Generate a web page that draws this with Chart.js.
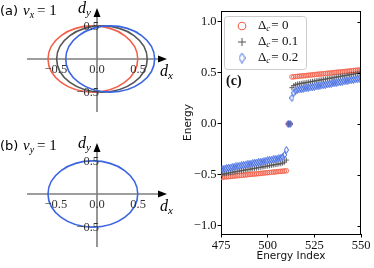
<!DOCTYPE html>
<html>
<head>
<meta charset="utf-8">
<script src="https://cdn.jsdelivr.net/npm/chart.js@4.4.0/dist/chart.umd.min.js"></script>
<style>
  body { margin: 0; background: #fff; }
  #wrap { position: relative; width: 374px; height: 268px; overflow: hidden; }
  .pane { position: absolute; }
</style>
</head>
<body>
<div id="wrap">
  <div class="pane" style="left:0;top:0;width:190px;height:135px"><canvas id="panelA"></canvas></div>
  <div class="pane" style="left:0;top:135px;width:190px;height:133px"><canvas id="panelB"></canvas></div>
  <div class="pane" style="left:175px;top:0;width:199px;height:268px"><canvas id="panelC"></canvas></div>
</div>
<script>
// ---- panel (c): energies around the gap ----
const energyIndex = [
  475, 476, 477, 478, 479, 480, 481, 482, 483, 484, 485, 486, 487, 488, 489, 490, 491, 492, 493,
  494, 495, 496, 497, 498, 499, 500, 501, 502, 503, 504, 505, 506, 507, 508, 509, 510,
  511, 512,
  513, 514, 515, 516, 517, 518, 519, 520, 521, 522, 523, 524, 525, 526, 527, 528, 529, 530, 531,
  532, 533, 534, 535, 536, 537, 538, 539, 540, 541, 542, 543, 544, 545, 546, 547, 548, 549, 550
];
const energyDc0 = [
  -0.525, -0.523, -0.521, -0.519, -0.518, -0.516, -0.514, -0.512, -0.510, -0.508, -0.506, -0.505,
  -0.503, -0.501, -0.499, -0.497, -0.495, -0.493, -0.492, -0.490, -0.488, -0.486, -0.484, -0.482,
  -0.480, -0.479, -0.477, -0.475, -0.473, -0.471, -0.469, -0.467, -0.466, -0.464, -0.462, -0.460,
  0, 0,
  0.460, 0.462, 0.464, 0.466, 0.468, 0.470, 0.471, 0.473, 0.475, 0.477, 0.479, 0.481, 0.483,
  0.485, 0.487, 0.489, 0.490, 0.492, 0.494, 0.496, 0.498, 0.500, 0.502, 0.504, 0.506, 0.508,
  0.509, 0.511, 0.513, 0.515, 0.517, 0.519, 0.521, 0.523, 0.525, 0.527, 0.528, 0.530
];
const energyDc01 = [
  -0.495, -0.492, -0.489, -0.485, -0.482, -0.479, -0.475, -0.472, -0.469, -0.466, -0.462, -0.459,
  -0.456, -0.452, -0.449, -0.446, -0.443, -0.439, -0.436, -0.433, -0.429, -0.426, -0.423, -0.420,
  -0.416, -0.413, -0.410, -0.406, -0.403, -0.400, -0.397, -0.393, -0.390, -0.385, -0.375, -0.355,
  0, 0,
  0.355, 0.375, 0.385, 0.390, 0.393, 0.397, 0.400, 0.403, 0.407, 0.410, 0.413, 0.416, 0.420,
  0.423, 0.426, 0.430, 0.433, 0.436, 0.439, 0.443, 0.446, 0.449, 0.452, 0.456, 0.459, 0.462,
  0.466, 0.469, 0.472, 0.475, 0.479, 0.482, 0.485, 0.489, 0.492, 0.495, 0.498, 0.502
];
const energyDc02 = [
  -0.445, -0.442, -0.438, -0.435, -0.431, -0.428, -0.424, -0.421, -0.417, -0.414, -0.411, -0.407,
  -0.404, -0.400, -0.397, -0.393, -0.390, -0.386, -0.383, -0.379, -0.376, -0.373, -0.369, -0.366,
  -0.362, -0.359, -0.355, -0.352, -0.348, -0.345, -0.342, -0.338, -0.335, -0.325, -0.305, -0.255,
  0, 0,
  0.255, 0.305, 0.325, 0.335, 0.338, 0.342, 0.345, 0.348, 0.352, 0.355, 0.358, 0.361, 0.365,
  0.368, 0.371, 0.375, 0.378, 0.381, 0.385, 0.388, 0.391, 0.394, 0.398, 0.401, 0.404, 0.408,
  0.411, 0.414, 0.418, 0.421, 0.424, 0.427, 0.431, 0.434, 0.437, 0.441, 0.444, 0.447
];
const deltaLabels = ['0', '0.1', '0.2'];
const indexTicks = [475, 500, 525, 550];
const energyTicks = [-1.0, -0.5, 0.0, 0.5, 1.0];

// ---- panels (a), (b): winding of (dx, dy) ----
const dTicksX = [-0.5, 0.0, 0.5];
const dTicksY = [-0.5, 0.5];
const ellipseCxA = [-0.05, 0.06, 0.16];
const ellipseRxA = [0.545, 0.55, 0.54];
const ellipseRyA = [0.5, 0.5, 0.5];
const ellipseCxB = [-0.05];
const ellipseRxB = [0.545];
const ellipseRyB = [0.5];

const RED = '#f2604a', GRAY = '#555555', BLUE = '#3b66e3';

function minusSign(s) { return s.replace('-', '\u2212'); }

// thin diamond marker like matplotlib 'd'
function thinDiamond(w, h, color) {
  const c = document.createElement('canvas');
  c.width = w; c.height = h;
  const g = c.getContext('2d');
  g.strokeStyle = color; g.lineWidth = 1;
  g.beginPath();
  g.moveTo(w / 2, 0.5); g.lineTo(w - 0.5, h / 2); g.lineTo(w / 2, h - 0.5); g.lineTo(0.5, h / 2);
  g.closePath(); g.stroke();
  return c;
}
const diamondSmall = thinDiamond(5, 8, BLUE);
const diamondBig = thinDiamond(7, 11, BLUE);

function pts(ys) { return energyIndex.map((x, i) => ({ x: x, y: ys[i] })); }

function subText(ctx, parts, x, y) {
  // parts: [text, font, dy, extra gap]
  let cx = x;
  parts.forEach(p => {
    ctx.font = p[1];
    ctx.fillText(p[0], cx, y + (p[2] || 0));
    cx += ctx.measureText(p[0]).width + (p[3] || 0);
  });
}

const frameLegend = {
  id: 'frameLegend',
  afterDraw(chart) {
    const { ctx, chartArea: a, scales } = chart;
    ctx.save();
    ctx.strokeStyle = '#000';
    ctx.lineWidth = 1;
    ctx.beginPath();
    ctx.moveTo(a.left, a.top + 0.5); ctx.lineTo(a.right, a.top + 0.5);
    ctx.moveTo(a.right - 0.5, a.top); ctx.lineTo(a.right - 0.5, a.bottom);
    energyTicks.forEach(v => {
      const y = Math.round(scales.y.getPixelForValue(v)) + 0.5;
      ctx.moveTo(a.right, y); ctx.lineTo(a.right - 3.5, y);
    });
    ctx.stroke();

    // legend
    const L = a.left + 3, T = a.top + 5, W = 82, H = 53;
    ctx.fillStyle = 'rgba(255,255,255,0.85)';
    ctx.strokeStyle = '#cccccc';
    ctx.beginPath();
    ctx.roundRect(L + 0.5, T + 0.5, W, H, 3);
    ctx.fill(); ctx.stroke();
    const rows = [T + 10, T + 26, T + 42];
    const mx = L + 18;
    ctx.strokeStyle = RED; ctx.lineWidth = 1.1;
    ctx.beginPath(); ctx.arc(mx, rows[0], 3.8, 0, Math.PI * 2); ctx.stroke();
    ctx.strokeStyle = GRAY; ctx.lineWidth = 1;
    ctx.beginPath();
    ctx.moveTo(mx - 4, rows[1]); ctx.lineTo(mx + 4, rows[1]);
    ctx.moveTo(mx, rows[1] - 4); ctx.lineTo(mx, rows[1] + 4);
    ctx.stroke();
    ctx.drawImage(diamondBig, mx - 3.5, rows[2] - 5.5);
    ctx.fillStyle = '#111';
    ctx.textBaseline = 'middle';
    deltaLabels.forEach((lab, i) => {
      subText(ctx, [
        ['\u0394', '13px "Liberation Serif"', 0],
        ['c', 'italic 9px "Liberation Serif"', 3, 1],
        ['= ' + lab, '13px "Liberation Serif"', 0]
      ], L + 34, rows[i]);
    });
    ctx.font = 'bold 14px "Liberation Serif"';
    ctx.textAlign = 'left';
    ctx.fillText('(c)', a.left + 5, a.top + 70);
    ctx.restore();
  }
};

new Chart(document.getElementById('panelC'), {
  type: 'scatter',
  data: {
    datasets: [
      { label: 'Δc = 0', data: pts(energyDc0), pointStyle: 'circle', pointRadius: 2.3,
        borderColor: RED, backgroundColor: 'rgba(0,0,0,0)', pointBorderWidth: 0.9, order: 3 },
      { label: 'Δc = 0.1', data: pts(energyDc01), pointStyle: 'cross', pointRadius: 2.6,
        borderColor: GRAY, backgroundColor: GRAY, pointBorderWidth: 0.9, order: 2 },
      { label: 'Δc = 0.2', data: pts(energyDc02), pointStyle: diamondSmall,
        borderColor: BLUE, backgroundColor: BLUE, order: 1 }
    ]
  },
  options: {
    responsive: true,
    maintainAspectRatio: false,
    animation: false,
    events: [],
    layout: { padding: { left: 0, right: 13, top: 11, bottom: 0 } },
    plugins: { legend: { display: false }, tooltip: { enabled: false } },
    scales: {
      x: {
        type: 'linear', min: 475, max: 550,
        afterFit(s) { s.height = 34; },
        afterBuildTicks(s) { s.ticks = indexTicks.map(v => ({ value: v })); },
        grid: { drawOnChartArea: false, drawTicks: true, tickLength: 3.5, color: '#000' },
        border: { display: true, color: '#000', width: 1 },
        ticks: { maxRotation: 0, padding: 1, color: '#111',
                 font: { family: 'Liberation Serif', size: 12.5 } },
        title: { display: true, text: 'Energy Index', color: '#111',
                 font: { family: 'DejaVu Sans', size: 10.5 }, padding: { top: 0, bottom: 5 } }
      },
      y: {
        type: 'linear', min: -1.08, max: 1.107,
        afterFit(s) { s.width = 46; },
        afterBuildTicks(s) { s.ticks = energyTicks.map(v => ({ value: v })); },
        grid: { drawOnChartArea: false, drawTicks: true, tickLength: 3.5, color: '#000' },
        border: { display: true, color: '#000', width: 1 },
        ticks: { padding: 1, color: '#111', font: { family: 'Liberation Serif', size: 12.5 },
                 callback: v => minusSign(Math.abs(v) < 1e-9 ? '0.0' : v.toFixed(1)) },
        title: { display: true, text: 'Energy', color: '#111',
                 font: { family: 'DejaVu Sans', size: 10.5 }, padding: { top: 7, bottom: 0 } }
      }
    }
  },
  plugins: [frameLegend]
});

// ---- (a) and (b) ----
function arrowAxes(tag, nuSub, cxs, rxs, rys, colors) {
  return {
    id: 'arrowAxes',
    afterDraw(chart) {
      const { ctx, scales: { x, y } } = chart;
      const x0 = x.getPixelForValue(0), y0 = y.getPixelForValue(0);
      const xl = x.getPixelForValue(x.min), xr = x.getPixelForValue(x.max);
      const yb = y.getPixelForValue(y.min), yt = y.getPixelForValue(y.max);
      ctx.save();
      ctx.strokeStyle = '#7d7d7d';
      ctx.lineWidth = 1.6;
      ctx.beginPath();
      ctx.moveTo(xl, y0); ctx.lineTo(xr - 6, y0);
      ctx.moveTo(x0, yb); ctx.lineTo(x0, yt + 6);
      ctx.stroke();
      ctx.fillStyle = '#000';
      ctx.beginPath();
      ctx.moveTo(xr, y0); ctx.lineTo(xr - 9, y0 - 3.5); ctx.lineTo(xr - 9, y0 + 3.5); ctx.closePath();
      ctx.moveTo(x0, yt); ctx.lineTo(x0 - 3.5, yt + 9); ctx.lineTo(x0 + 3.5, yt + 9); ctx.closePath();
      ctx.fill();
      cxs.forEach((cx, i) => {
        const px = x.getPixelForValue(cx);
        const rx = x.getPixelForValue(cx + rxs[i]) - px;
        const ry = y0 - y.getPixelForValue(rys[i]);
        ctx.strokeStyle = colors[i];
        ctx.lineWidth = 1.6;
        ctx.beginPath();
        ctx.ellipse(px, y0, rx, ry, 0, 0, Math.PI * 2);
        ctx.stroke();
      });
      ctx.fillStyle = '#333';
      ctx.font = '12.5px "Liberation Serif"';
      ctx.textAlign = 'center';
      ctx.textBaseline = 'top';
      dTicksX.forEach(v => ctx.fillText(minusSign(v.toFixed(1)), x.getPixelForValue(v), y0 + 4));
      ctx.textAlign = 'right';
      ctx.textBaseline = 'middle';
      dTicksY.forEach(v => ctx.fillText(minusSign(v.toFixed(1)), x0 + 2, y.getPixelForValue(v) + 1));
      ctx.fillStyle = '#000';
      ctx.textAlign = 'left';
      ctx.textBaseline = 'alphabetic';
      subText(ctx, [['d', 'italic 16px "Liberation Serif"', 0], ['x', 'italic 11px "Liberation Serif"', 3]],
              xr - 7, y0 + 17);
      subText(ctx, [['d', 'italic 16px "Liberation Serif"', 0], ['y', 'italic 11px "Liberation Serif"', 3]],
              x0 - 19, yt + 5);
      ctx.font = '13px "DejaVu Sans"';
      ctx.fillText(tag, 0, 15);
      subText(ctx, [['\u03bd', 'italic 15px "Liberation Serif"', 0], [nuSub, 'italic 10px "Liberation Serif"', 3, 3],
                    ['= 1', '15px "Liberation Serif"', 0]], 23, 15);
      ctx.restore();
    }
  };
}

function vectorPanel(id, bottomPad, plugin) {
  new Chart(document.getElementById(id), {
    type: 'scatter',
    data: { datasets: [] },
    options: {
      responsive: true,
      maintainAspectRatio: false,
      animation: false,
      events: [],
      layout: { padding: { left: 27, right: 23, top: 8, bottom: bottomPad } },
      plugins: { legend: { display: false }, tooltip: { enabled: false } },
      scales: {
        x: { type: 'linear', min: -0.85, max: 0.85, display: false },
        y: { type: 'linear', min: -0.80, max: 0.77, display: false }
      }
    },
    plugins: [plugin]
  });
}

vectorPanel('panelA', 23, arrowAxes('(a)', 'x', ellipseCxA, ellipseRxA, ellipseRyA, [RED, GRAY, BLUE]));
vectorPanel('panelB', 21, arrowAxes('(b)', 'y', ellipseCxB, ellipseRxB, ellipseRyB, [BLUE]));
</script>
</body>
</html>
